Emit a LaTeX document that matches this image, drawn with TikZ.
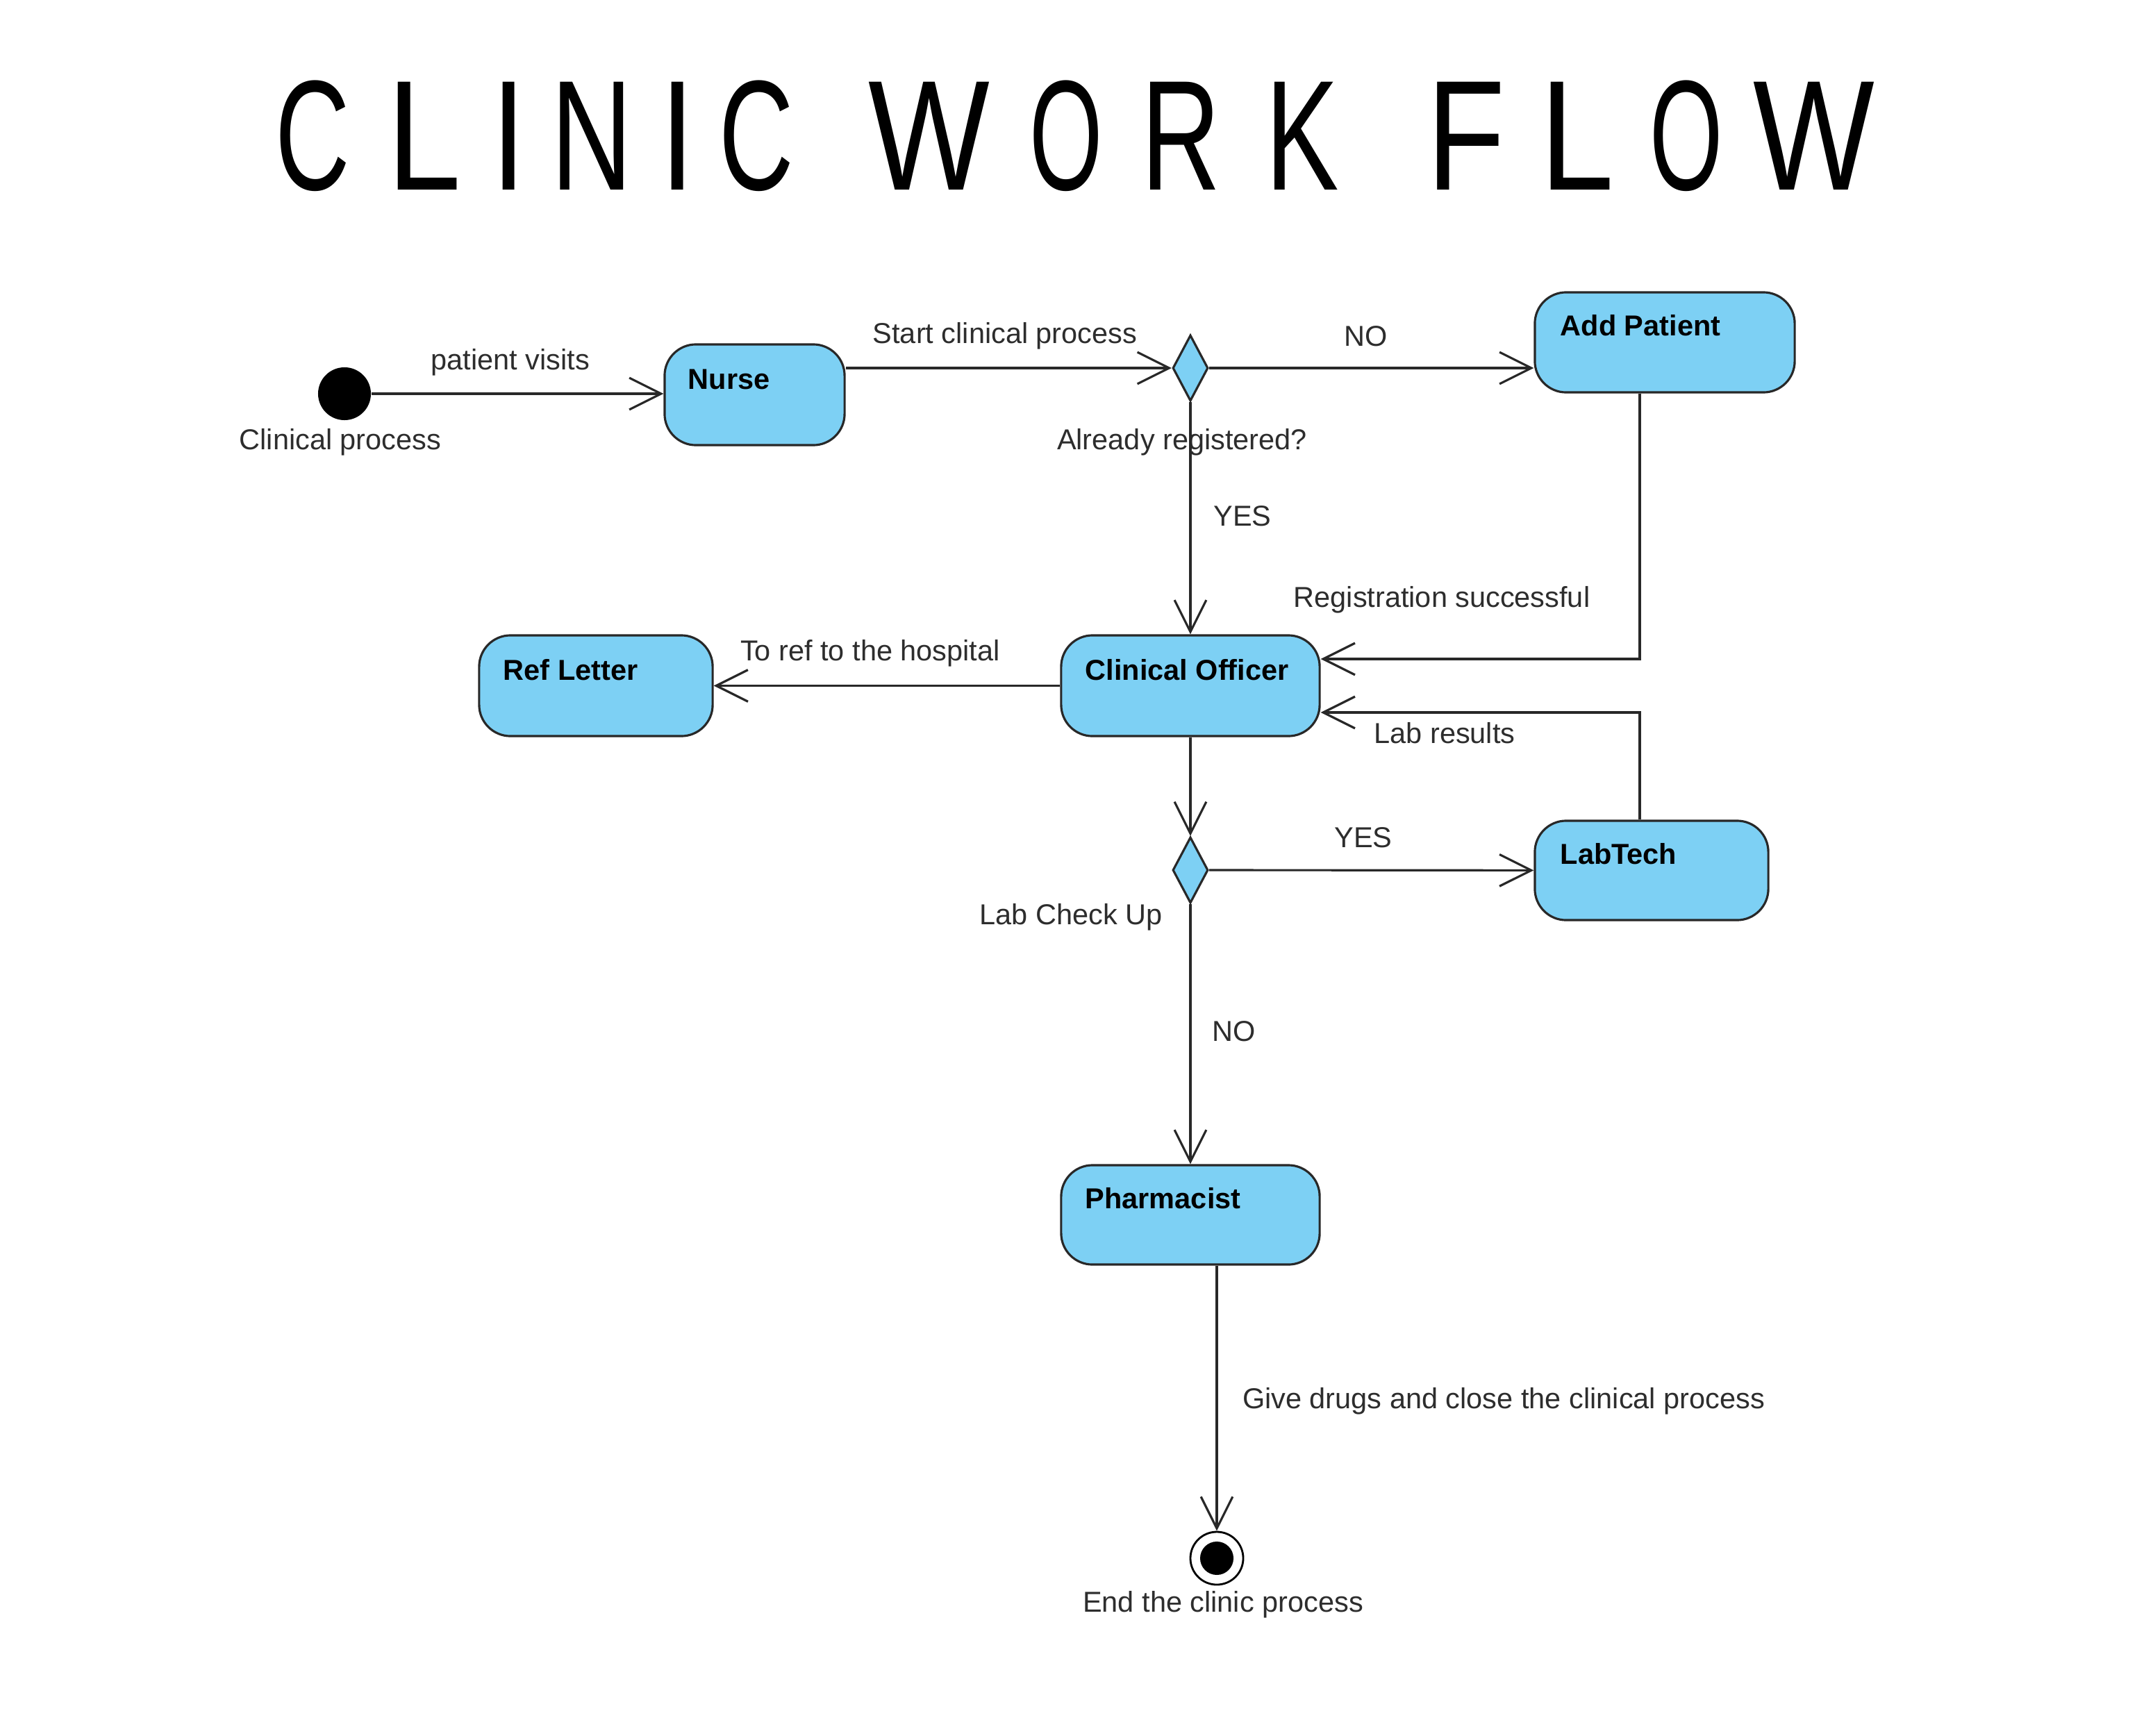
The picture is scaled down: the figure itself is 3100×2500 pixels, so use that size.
\documentclass[tikz,border=0pt]{standalone}
\usepackage{graphicx}
\usepackage{fontspec}
\setmainfont{Liberation Sans}
\newfontfamily\titlefont{Liberation Sans}
\usetikzlibrary{arrows.meta,shapes.geometric}
\definecolor{boxblue}{RGB}{125,208,244}
\definecolor{linegray}{RGB}{40,40,40}
\definecolor{textgray}{RGB}{45,45,45}
\newcommand\tglyph[2]{\makebox[0pt]{\scalebox{#1}[1]{#2}}}
\begin{document}
\begin{tikzpicture}[x=0.01cm,y=-0.01cm,
  flow/.style={draw=linegray, line width=0.9pt, -{Straight Barb[length=13pt,width=13pt,line width=0.9pt]}},
  act/.style={draw=linegray, line width=0.9pt, fill=boxblue, rounded corners=0.45cm, inner sep=0},
  dec/.style={diamond, draw=linegray, fill=boxblue, line width=0.9pt, minimum width=0.51cm, minimum height=0.95cm, inner sep=0},
  lbl/.style={text=textgray, font=\fontsize{11.8}{14}\selectfont, inner sep=0},
  btxt/.style={text=black, font=\fontsize{11.8}{14}\selectfont\bfseries, anchor=west, inner sep=0}]
\fill[white] (0,0) rectangle (3100,2500);
\useasboundingbox (0,0) rectangle (3100,2500);

% title (letters centred on the reference positions)
\node[inner sep=0, anchor=west, font=\titlefont\fontsize{64.2}{70}\selectfont] (title) at (450,196)
  {\tglyph{0.66}{C}\hspace{1.605cm}\tglyph{0.85}{L}\hspace{1.215cm}\tglyph{0.8}{I}\hspace{1.19cm}%
   \tglyph{0.72}{N}\hspace{1.235cm}\tglyph{0.8}{I}\hspace{1.135cm}\tglyph{0.66}{C}\hspace{1.858cm}\ %
   \tglyph{0.82}{W}\hspace{1.97cm}\tglyph{0.6}{O}\hspace{1.655cm}\tglyph{0.7}{R}\hspace{1.75cm}%
   \tglyph{0.7}{K}\hspace{1.728cm}\ \tglyph{0.82}{F}\hspace{1.595cm}\tglyph{0.85}{L}\hspace{1.575cm}%
   \tglyph{0.6}{O}\hspace{1.83cm}\tglyph{0.82}{W}};

% nodes
\node[circle, fill=black, minimum size=0.76cm, inner sep=0] (start) at (496,567) {};
\node[lbl] (lstart) at (490,637) {Clinical process};

\node[act, minimum width=2.59cm, minimum height=1.45cm] (nurse) at (1086.5,568.5) {};
\node[btxt] (tnurse) at (990,546) {Nurse};

\node[dec] (d1) at (1714,530) {};
\node[lbl] (ld1) at (1702,637) {Already registered?};

\node[act, minimum width=3.74cm, minimum height=1.44cm] (ap) at (2397,493) {};
\node[btxt] (tap) at (2246,469) {Add Patient};

\node[act, minimum width=3.72cm, minimum height=1.45cm] (co) at (1714,987.5) {};
\node[btxt] (tco) at (1562,965) {Clinical Officer};

\node[act, minimum width=3.36cm, minimum height=1.45cm] (ref) at (858,987.5) {};
\node[btxt] (tref) at (724,965) {Ref Letter};

\node[dec] (d2) at (1714,1253) {};
\node[lbl] (ld2) at (1542,1321) {Lab Check Up};

\node[act, minimum width=3.36cm, minimum height=1.43cm] (lt) at (2378,1253.5) {};
\node[btxt] (tlt) at (2246,1230) {LabTech};

\node[act, minimum width=3.72cm, minimum height=1.43cm] (ph) at (1714,1749.5) {};
\node[btxt] (tph) at (1562,1726) {Pharmacist};

\node[circle, draw=black, fill=white, line width=0.8pt, minimum size=0.76cm, inner sep=0] (end) at (1752,2244) {};
\node[circle, fill=black, minimum size=0.48cm, inner sep=0] (endin) at (end) {};
\node[lbl] (lend) at (1761,2311) {End the clinic process};

% helper coordinates
\coordinate (rx) at (2361,0);
\coordinate (regin) at (0,949);
\coordinate (labin) at (0,1026);

% connectors
\draw[flow] (start) -- (start -| nurse.west);
\draw[flow] (nurse.east |- d1) -- (d1);
\draw[flow] (d1) -- (d1 -| ap.west);
\draw[flow] (d1) -- (co);
\draw[flow] (ap.south -| rx) |- (co.east |- regin);
\draw[flow] (lt.north -| rx) |- (co.east |- labin);
\draw[flow] (co) -- (ref);
\draw[flow] (co) -- (d2);
\draw[flow] (d2) -- (lt);
\draw[flow] (d2) -- (ph);
\draw[flow] (ph.south -| end) -- (end);

% connector labels
\node[lbl] (l1) at (735,522) {patient visits};
\node[lbl] (l2) at (1447,484) {Start clinical process};
\node[lbl] (l3) at (1967,484) {NO};
\node[lbl] (l4) at (1789,743) {YES};
\node[lbl] (l5) at (2076,864) {Registration successful};
\node[lbl] (l6) at (1253,941) {To ref to the hospital};
\node[lbl] (l7) at (2080,1056) {Lab results};
\node[lbl] (l8) at (1963,1206) {YES};
\node[lbl] (l9) at (1777,1485) {NO};
\node[lbl] (l10) at (2165,2018) {Give drugs and close the clinical process};
\end{tikzpicture}
\end{document}
